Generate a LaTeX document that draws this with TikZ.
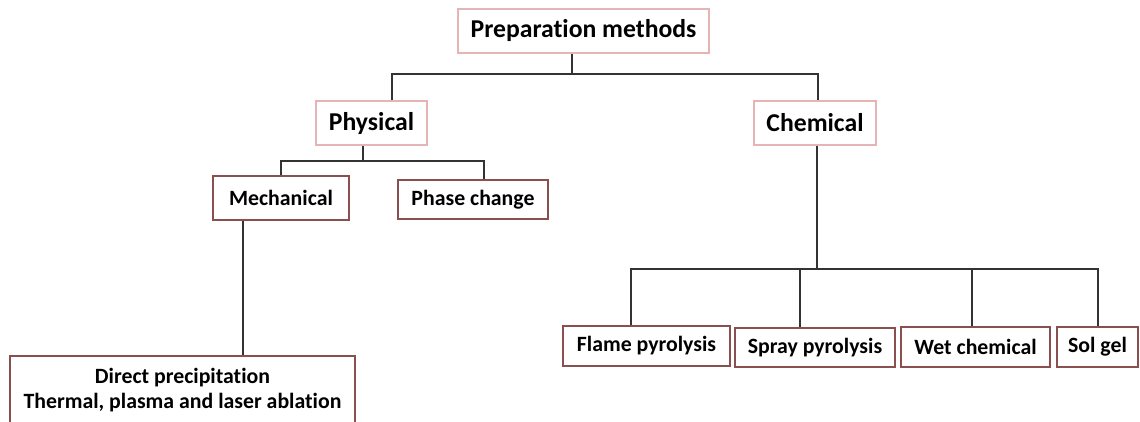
\documentclass[tikz,border=0pt]{standalone}
\usepackage{fontspec}
\setmainfont{Carlito}[Ligatures={NoCommon}]
\definecolor{pinkb}{HTML}{E6B4B4}
\definecolor{darkb}{HTML}{8A4F4F}
\definecolor{linec}{HTML}{333333}
\begin{document}
\begin{tikzpicture}[x=1pt,y=-1pt,
  topbox/.style={draw=pinkb,line width=1.5pt,fill=white,inner sep=0pt,font=\bfseries\fontsize{25.7}{30}\selectfont},
  subbox/.style={draw=darkb,line width=1.5pt,fill=white,inner sep=0pt,font=\bfseries\fontsize{21.8}{25}\selectfont},
  conn/.style={draw=linec,line width=1.5pt}]
\useasboundingbox (0,0) rectangle (1140,421);
% boxes
\node[topbox,minimum width=251pt,minimum height=44pt] (prep) at (583.5,31) {Preparation methods};
\node[topbox,minimum width=111pt,minimum height=44pt] (phys) at (371.5,123) {Physical};
\node[topbox,minimum width=122pt,minimum height=44pt] (chem) at (815,123) {Chemical};
\node[subbox,minimum width=136pt,minimum height=44pt] (mech) at (281,198) {Mechanical};
\node[subbox,minimum width=150pt,minimum height=39pt] (phase) at (473,199.5) {Phase change};
\node[subbox,minimum width=345pt,minimum height=68pt,align=center,font=\bfseries\fontsize{21.8}{25}\selectfont] (direct) at (182.5,390) {Direct precipitation\\Thermal, plasma and laser ablation};
\node[subbox,minimum width=167pt,minimum height=40pt] (flame) at (646.5,346) {Flame pyrolysis};
\node[subbox,minimum width=160pt,minimum height=39pt] (spray) at (815,347.5) {Spray pyrolysis};
\node[subbox,minimum width=149pt,minimum height=40pt] (wet) at (975.5,347) {Wet chemical};
\node[subbox,minimum width=81pt,minimum height=40pt] (sol) at (1097.5,347) {Sol gel};
% junction coordinates
\coordinate (j0) at (572,74);
\coordinate (jl) at (392,74);
\coordinate (jr) at (818,74);
\coordinate (j1) at (363,161);
\coordinate (jm) at (281,161);
\coordinate (jp) at (484,161);
\coordinate (jmd) at (243,200);
\coordinate (j2) at (817,269);
\coordinate (jf) at (631,269);
\coordinate (js) at (800,269);
\coordinate (jw) at (972,269);
\coordinate (jg) at (1098,269);
% connectors
\draw[conn] (prep.south -| j0) -- (j0);
\draw[conn] (phys.north -| jl) -- (jl) -- (jr) -- (chem.north -| jr);
\draw[conn] (phys.south -| j1) -- (j1);
\draw[conn] (mech.north -| jm) -- (jm) -- (jp) -- (phase.north -| jp);
\draw[conn] (mech.south -| jmd) -- (direct.north -| jmd);
\draw[conn] (chem.south -| j2) -- (j2);
\draw[conn] (flame.north -| jf) -- (jf) -- (jg) -- (sol.north -| jg);
\draw[conn] (js) -- (spray.north -| js);
\draw[conn] (jw) -- (wet.north -| jw);
\end{tikzpicture}
\end{document}
